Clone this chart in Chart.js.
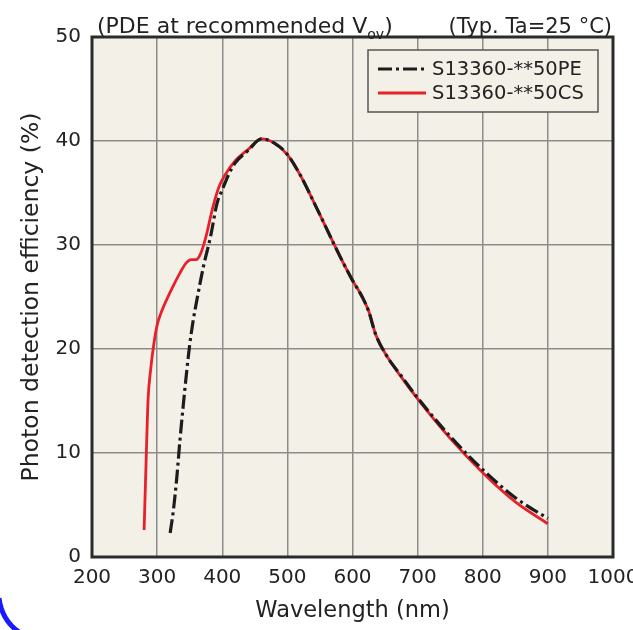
<!DOCTYPE html>
<html>
<head>
<meta charset="utf-8">
<script src="https://cdn.jsdelivr.net/npm/chart.js@4.4.0/dist/chart.umd.min.js"></script>
<style>
  html, body { margin: 0; padding: 0; background: #ffffff; }
  #wrap { width: 633px; height: 630px; position: relative; }
</style>
</head>
<body>
<div id="wrap"><canvas id="pdeChart" width="633" height="630"></canvas></div>
<script>
// wavelength (nm) / PDE (%)
const peWavelengths = [320, 325, 330, 335, 340, 345, 350, 355, 361, 371, 382, 392, 400, 410, 420, 440, 460, 480, 500, 520, 540, 560, 580, 600, 615, 625, 635, 650, 675, 700, 750, 800, 850, 900];
const pePDE         = [2.3, 4.5, 7.5, 11.2, 14.5, 17.6, 20.4, 22.6, 24.7, 27.9, 30.8, 34.0, 35.3, 36.8, 37.9, 39.1, 40.2, 39.8, 38.7, 36.7, 34.2, 31.6, 29.0, 26.6, 25.0, 23.6, 21.5, 19.6, 17.4, 15.3, 11.6, 8.4, 5.7, 3.7];

const csWavelengths = [280, 283, 286, 290, 295, 300, 305, 315, 325, 335, 345, 352, 360, 367, 375, 385, 395, 405, 420, 440, 460, 480, 500, 520, 540, 560, 580, 600, 615, 625, 635, 650, 675, 700, 750, 800, 850, 900];
const csPDE         = [2.6, 9.0, 15.0, 18.0, 20.5, 22.3, 23.3, 24.8, 26.1, 27.3, 28.3, 28.6, 28.6, 29.2, 30.8, 33.5, 35.6, 36.8, 38.1, 39.2, 40.2, 39.8, 38.7, 36.7, 34.2, 31.6, 29.0, 26.6, 25.0, 23.6, 21.5, 19.6, 17.3, 15.2, 11.4, 8.1, 5.3, 3.2];

const seriesLabels = ['S13360-**50PE', 'S13360-**50CS'];
const xTicks = [200, 300, 400, 500, 600, 700, 800, 900, 1000];
const yTicks = [0, 10, 20, 30, 40, 50];

const FONT = 'DejaVu Sans';
const TEXT = '#222222';

// beige plot background + thick frame
const frame = {
    id: 'frame',
    beforeDraw(chart) {
        const {ctx, chartArea: a} = chart;
        ctx.save();
        ctx.fillStyle = '#f2f0e7';
        ctx.fillRect(a.left, a.top, a.right - a.left, a.bottom - a.top);
        ctx.restore();
    },
    afterDatasetsDraw(chart) {
        const {ctx, chartArea: a} = chart;
        ctx.save();
        ctx.strokeStyle = '#2b2b2b';
        ctx.lineWidth = 3;
        ctx.strokeRect(a.left, a.top, a.right - a.left, a.bottom - a.top);
        ctx.restore();
    }
};

// legend box and top captions
const extras = {
    id: 'extras',
    afterDraw(chart) {
        const {ctx} = chart;
        ctx.save();
        // legend
        ctx.fillStyle = '#f2f0e7';
        ctx.fillRect(368, 50, 230, 62);
        ctx.strokeStyle = '#555555';
        ctx.lineWidth = 1.5;
        ctx.strokeRect(368, 50, 230, 62);
        chart.data.datasets.forEach((ds, i) => {
            const y = 69 + i * 24;
            ctx.strokeStyle = ds.borderColor;
            ctx.lineWidth = ds.borderWidth;
            ctx.setLineDash(ds.borderDash || []);
            ctx.beginPath();
            ctx.moveTo(378, y);
            ctx.lineTo(426, y);
            ctx.stroke();
            ctx.setLineDash([]);
            ctx.fillStyle = TEXT;
            ctx.font = '19.5px ' + FONT;
            ctx.textBaseline = 'middle';
            ctx.textAlign = 'left';
            ctx.fillText(ds.label, 432, y + 1);
        });
        // captions
        ctx.fillStyle = TEXT;
        ctx.textBaseline = 'alphabetic';
        ctx.font = '22px ' + FONT;
        ctx.textAlign = 'left';
        let x = 97;
        const t1 = '(PDE at recommended V';
        ctx.fillText(t1, x, 33);
        x += ctx.measureText(t1).width;
        ctx.font = '14px ' + FONT;
        ctx.fillText('ov', x, 39);
        x += ctx.measureText('ov').width;
        ctx.font = '22px ' + FONT;
        ctx.fillText(')', x, 33);
        ctx.font = '21px ' + FONT;
        ctx.textAlign = 'right';
        ctx.fillText('(Typ. Ta=25 °C)', 612, 33);
        // blue arc at lower-left corner
        ctx.strokeStyle = '#1a1aff';
        ctx.lineWidth = 5;
        ctx.beginPath();
        ctx.moveTo(-1, 598);
        ctx.quadraticCurveTo(2, 622, 22, 634);
        ctx.stroke();
        ctx.restore();
    }
};

new Chart(document.getElementById('pdeChart').getContext('2d'), {
    type: 'line',
    data: {
        datasets: [{
            label: seriesLabels[0],
            data: peWavelengths.map((w, i) => ({x: w, y: pePDE[i]})),
            borderColor: '#1c1c1c',
            borderWidth: 3.2,
            borderDash: [14, 4, 3, 4],
            pointRadius: 0,
            cubicInterpolationMode: 'monotone',
            order: 1
        }, {
            label: seriesLabels[1],
            data: csWavelengths.map((w, i) => ({x: w, y: csPDE[i]})),
            borderColor: '#e8202a',
            borderWidth: 2.8,
            pointRadius: 0,
            cubicInterpolationMode: 'monotone',
            order: 2
        }]
    },
    options: {
        responsive: false,
        animation: false,
        layout: { padding: { top: 37, right: 20, left: 0, bottom: 0 } },
        plugins: {
            legend: { display: false },
            tooltip: { enabled: false }
        },
        scales: {
            x: {
                type: 'linear',
                min: 200,
                max: 1000,
                afterBuildTicks: s => { s.ticks = xTicks.map(v => ({value: v})); },
                afterFit: s => { s.height = 73; s.paddingLeft = 0; s.paddingRight = 0; },
                grid: { color: '#8c8c8c', lineWidth: 1.5, drawTicks: false },
                border: { display: false },
                ticks: { autoSkip: false, maxRotation: 0, padding: 9, color: TEXT, font: { family: FONT, size: 20 }, callback: v => String(v) },
                title: { display: true, text: 'Wavelength (nm)', color: TEXT, font: { family: FONT, size: 22.5 }, padding: { bottom: 5 } }
            },
            y: {
                min: 0,
                max: 50,
                afterBuildTicks: s => { s.ticks = yTicks.map(v => ({value: v})); },
                afterFit: s => { s.width = 92; s.paddingTop = 0; s.paddingBottom = 0; },
                grid: { color: '#8c8c8c', lineWidth: 1.5, drawTicks: false },
                border: { display: false },
                ticks: { padding: 11, color: TEXT, font: { family: FONT, size: 20 }, callback: v => String(v) },
                title: { display: true, text: 'Photon detection efficiency (%)', color: TEXT, font: { family: FONT, size: 23.5 }, padding: { top: 18 } }
            }
        }
    },
    plugins: [frame, extras]
});
</script>
</body>
</html>
